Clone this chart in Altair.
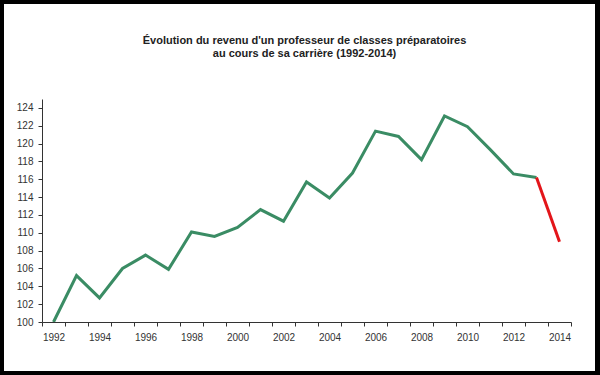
import altair as alt
import pandas as pd

years = list(range(1992, 2015))
values = [100.0, 105.2, 102.7, 106.0, 107.5, 105.9, 110.1, 109.6, 110.6, 112.6,
          111.3, 115.7, 113.9, 116.7, 121.4, 120.8, 118.2, 123.1, 121.9, 119.3,
          116.6, 116.2, 109.0]
series_names = ["hausse", "baisse"]
series_colors = ["#3a8c64", "#e3151a"]
y_ticks = list(range(100, 125, 2))

rows = []
for yr, v in zip(years, values):
    if yr <= 2013:
        rows.append({"annee": yr, "indice": v, "serie": series_names[0]})
    if yr >= 2013:
        rows.append({"annee": yr, "indice": v, "serie": series_names[1]})
df = pd.DataFrame(rows)

PAD_L, PAD_T, W, H = 42, 99, 529, 223

frame = alt.Chart(alt.Data(values=[{"a": 1}])).mark_rect(color="white").encode(
    x=alt.value(4 - PAD_L), x2=alt.value(595 - PAD_L),
    y=alt.value(4 - PAD_T), y2=alt.value(371 - PAD_T),
)

line = alt.Chart(df).mark_line(strokeWidth=3, strokeJoin="miter").encode(
    x=alt.X("annee:O", bandPosition=0.5,
            scale=alt.Scale(type="band", domain=years, paddingInner=0, paddingOuter=0),
            axis=alt.Axis(title=None, tickBand="extent", labelAngle=0,
                          labelExpr="datum.value % 2 == 0 ? datum.label : ''",
                          tickSize=4, labelPadding=6, zindex=1)),
    y=alt.Y("indice:Q", scale=alt.Scale(domain=[100, 125], nice=False, zero=False),
            axis=alt.Axis(title=None, values=y_ticks, tickSize=4, labelPadding=5,
                          zindex=1)),
    color=alt.Color("serie:N", scale=alt.Scale(domain=series_names, range=series_colors),
                    legend=None),
    detail="serie:N",
)

chart = alt.layer(frame, line).properties(
    width=W, height=H,
    title=alt.TitleParams(
        ["Évolution du revenu d'un professeur de classes préparatoires",
         "au cours de sa carrière (1992-2014)"],
        fontSize=11, fontWeight="bold", font="Liberation Sans", color="#222222",
        anchor="middle", frame="group", offset=-55, lineHeight=13.4, zindex=1, dx=-2,
    ),
    padding={"left": PAD_L, "top": PAD_T, "right": 600 - PAD_L - W, "bottom": 375 - PAD_T - H},
    autosize=alt.AutoSizeParams(type="none"),
    background="black",
).configure_view(stroke=None).configure_axis(
    grid=False, domainColor="#333333", tickColor="#333333", labelColor="#333333",
    labelFont="Liberation Sans", labelFontSize=10, domainWidth=1, tickWidth=1,
)

chart.save("out.html", embed_options={"renderer": "svg", "actions": False})
